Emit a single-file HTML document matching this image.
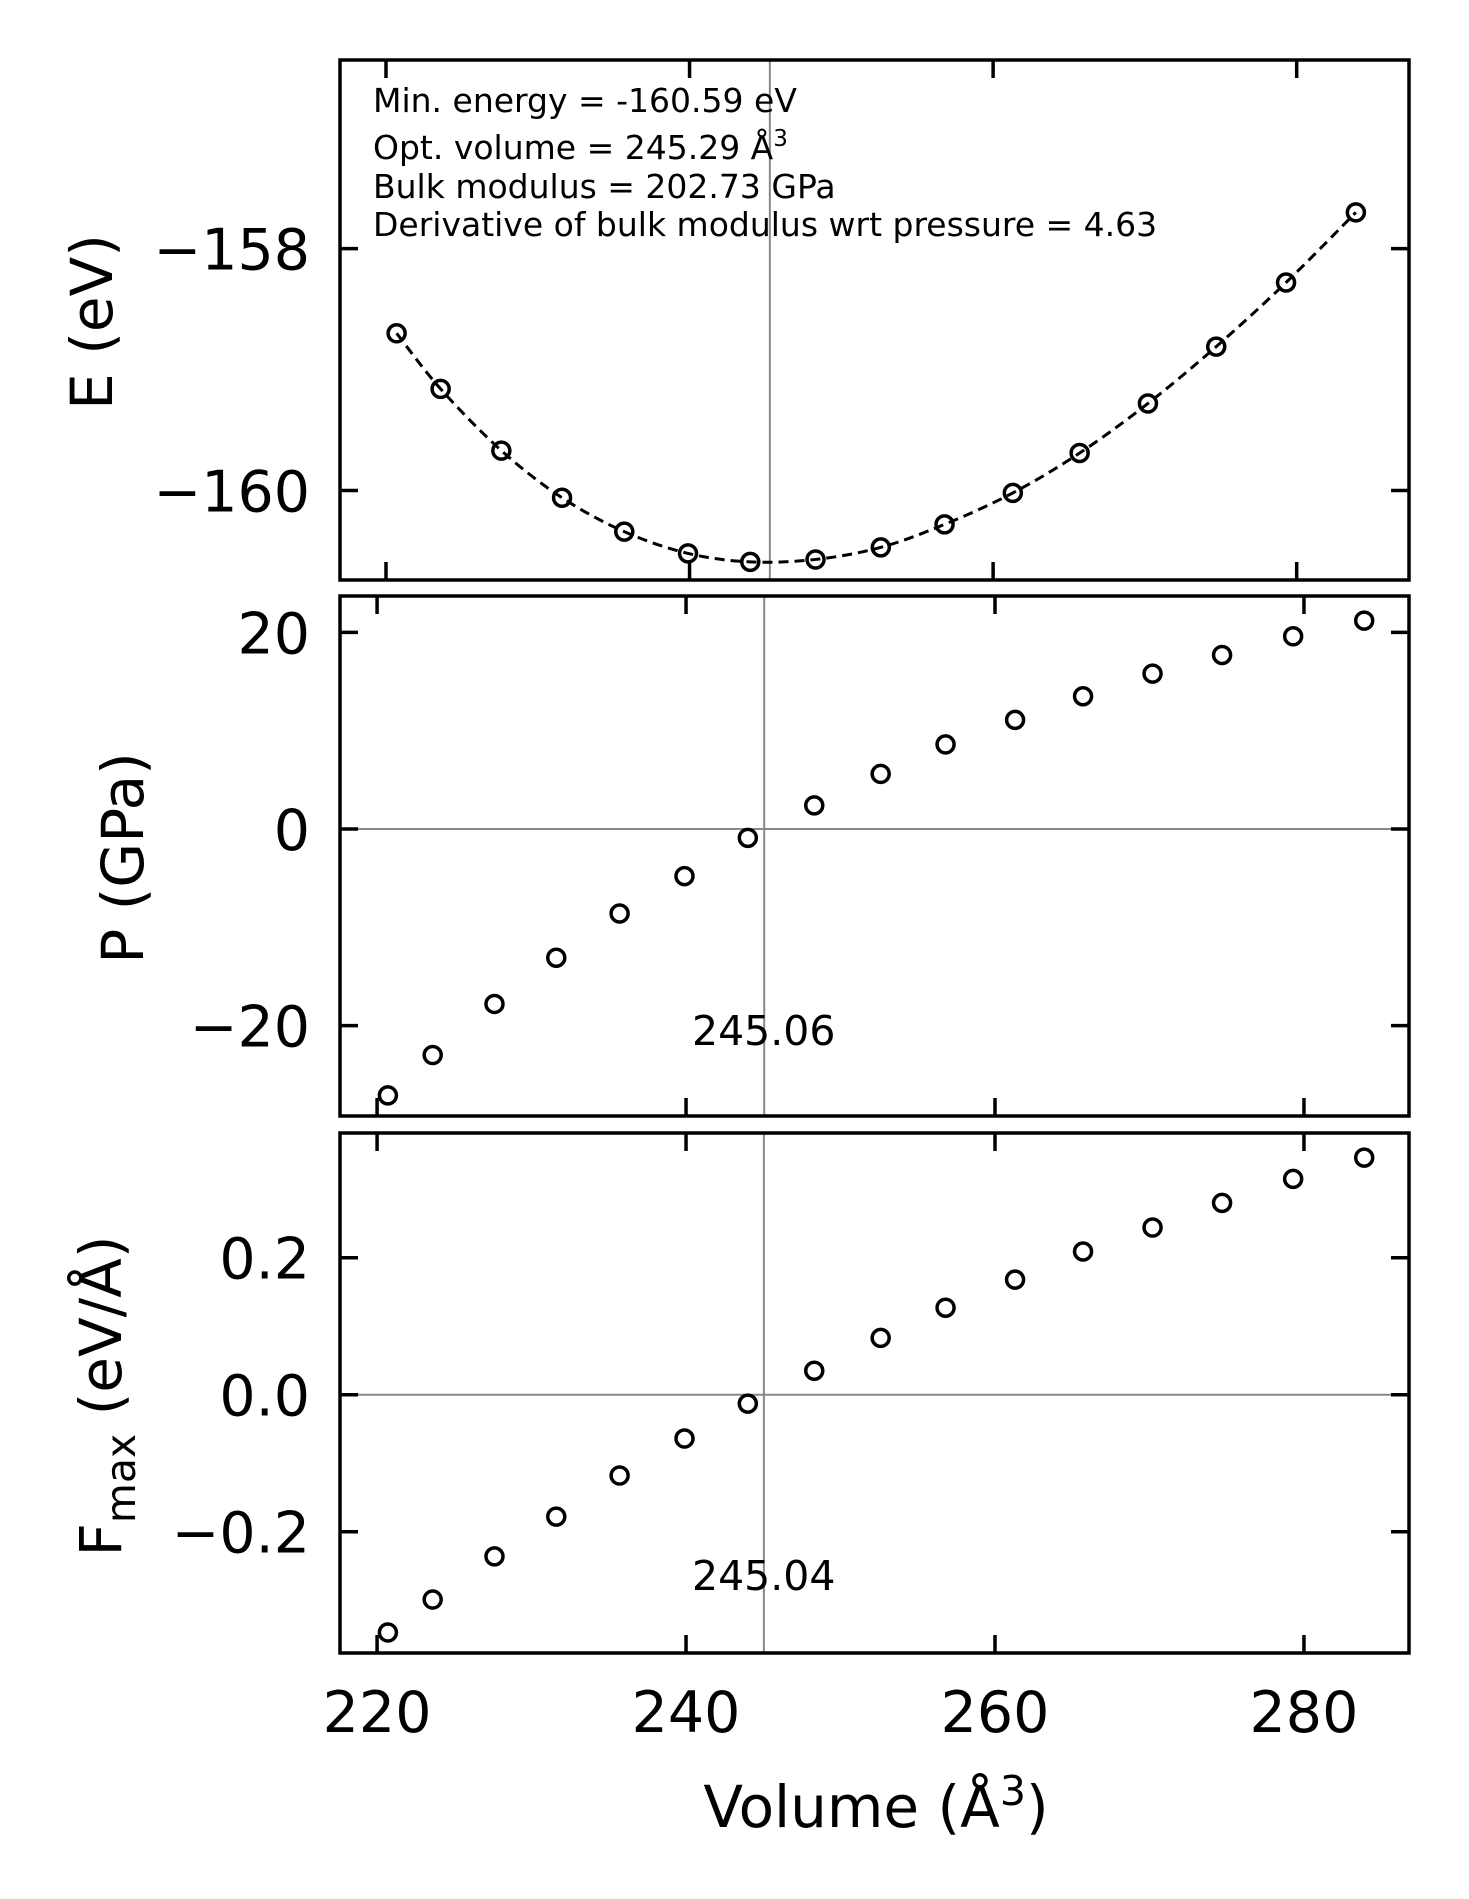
<!DOCTYPE html>
<html><head><meta charset="utf-8"><style>html,body{margin:0;padding:0;background:#fff}svg{display:block}text{font-family:"DejaVu Sans","Liberation Sans",sans-serif;fill:#000}</style></head>
<body>
<svg id="chart" width="1469" height="1899" viewBox="0 0 1469 1899" xmlns="http://www.w3.org/2000/svg"></svg>
<script>
const volumes = [220.7,223.6,227.6,231.6,235.7,239.9,244.0,248.3,252.6,256.8,261.3,265.7,270.2,274.7,279.3,283.9];
const energies = [-158.70,-159.16,-159.67,-160.06,-160.34,-160.52,-160.59,-160.57,-160.47,-160.28,-160.02,-159.69,-159.28,-158.81,-158.28,-157.70];
const pressures = [-27.1,-23.0,-17.8,-13.1,-8.6,-4.8,-0.9,2.4,5.6,8.6,11.1,13.5,15.8,17.7,19.6,21.2];
const forces = [-0.347,-0.299,-0.236,-0.178,-0.118,-0.064,-0.013,0.035,0.083,0.127,0.168,0.209,0.244,0.280,0.315,0.346];
const xTicks = [220,240,260,280];
const eTicks = [-158,-160];
const pTicks = [20,0,-20];
const fTicks = [0.2,0.0,-0.2];
const fTickLabels = ["0.2","0.0","\u22120.2"];
const optVolE = 245.29, optVolP = 245.06, optVolF = 245.04;
const annotLines = ["Min. energy = -160.59 eV","Opt. volume = 245.29 \u00c5","Bulk modulus = 202.73 GPa","Derivative of bulk modulus wrt pressure = 4.63"];

const svg = document.getElementById('chart');
const NS = 'http://www.w3.org/2000/svg';
function mk(tag, attrs, parent){const e=document.createElementNS(NS,tag);for(const k in attrs)e.setAttribute(k,attrs[k]);(parent||svg).appendChild(e);return e;}
const L=340,R=1409;
const panels=[
 {name:'energy',top:60,bot:580,xmin:216.97,xmax:287.4,ymin:-160.74,ymax:-156.44,ys:energies,yt:eTicks,yl:eTicks.map(v=>'\u2212'+Math.abs(v)),vline:optVolE,hz:false},
 {name:'pressure',top:596,bot:1116,xmin:217.6,xmax:286.8,ymin:-29.2,ymax:23.7,ys:pressures,yt:pTicks,yl:pTicks.map(v=>v<0?'\u2212'+Math.abs(v):''+v),vline:optVolP,hz:true},
 {name:'force',top:1133,bot:1653,xmin:217.6,xmax:286.8,ymin:-0.377,ymax:0.382,ys:forces,yt:fTicks,yl:fTickLabels,vline:optVolF,hz:true}
];
panels.forEach((p,pi)=>{
  const g=mk('g',{});
  
  
  const X=v=>L+(v-p.xmin)/(p.xmax-p.xmin)*(R-L);
  const Y=v=>p.bot-(v-p.ymin)/(p.ymax-p.ymin)*(p.bot-p.top);
  const vl=mk('line',{x1:X(p.vline),x2:X(p.vline),y1:p.top,y2:p.bot,stroke:'#888','stroke-width':2},g);
  
  
  if(p.hz){
    const hl=mk('line',{x1:L,x2:R,y1:Y(0),y2:Y(0),stroke:'#888','stroke-width':2},g);
    
    
  }
  if(pi===0){
    const pts=volumes.map((v,i)=>[X(v),Y(p.ys[i])]);
    let d='M'+pts[0][0]+','+pts[0][1];
    for(let i=0;i<pts.length-1;i++){
      const p0=pts[Math.max(0,i-1)],p1=pts[i],p2=pts[i+1],p3=pts[Math.min(pts.length-1,i+2)];
      const c1=[p1[0]+(p2[0]-p0[0])/6,p1[1]+(p2[1]-p0[1])/6],c2=[p2[0]-(p3[0]-p1[0])/6,p2[1]-(p3[1]-p1[1])/6];
      d+=' C'+c1.join(',')+' '+c2.join(',')+' '+p2.join(',');
    }
    const c=mk('path',{d:d,fill:'none',stroke:'#000','stroke-width':3,'stroke-dasharray':'10,6'},g);
    
    
  }
  volumes.forEach((v,i)=>{
    const m=mk('circle',{cx:X(v),cy:Y(p.ys[i]),r:8.5,fill:'none',stroke:'#000','stroke-width':3.5},g);
    
    
  });
  xTicks.forEach(t=>{
    mk('line',{x1:X(t),x2:X(t),y1:p.bot,y2:p.bot-18,stroke:'#000','stroke-width':3.5},g);
    mk('line',{x1:X(t),x2:X(t),y1:p.top,y2:p.top+18,stroke:'#000','stroke-width':3.5},g);
    if(pi===2){
      const tl=mk('text',{x:X(t),y:1732,'font-size':57,'text-anchor':'middle'},g);
      tl.textContent=''+t;
      
      
    }
  });
  p.yt.forEach((t,i)=>{
    mk('line',{x1:L,x2:L+18,y1:Y(t),y2:Y(t),stroke:'#000','stroke-width':3.5},g);
    mk('line',{x1:R,x2:R-18,y1:Y(t),y2:Y(t),stroke:'#000','stroke-width':3.5},g);
    const tl=mk('text',{x:310,y:Y(t)+21,'font-size':57,'text-anchor':'end'},g);
    tl.textContent=p.yl[i];
    
    
  });
  const fr=mk('rect',{x:L,y:p.top,width:R-L,height:p.bot-p.top,fill:'none',stroke:'#000','stroke-width':3.5},g);
  
  
});
const ann=mk('g',{});


const bl=[112,159,198,236];
annotLines.forEach((s,i)=>{
  const t=mk('text',{x:373,y:bl[i],'font-size':33},ann);
  t.textContent=s;
  if(i===1){const sp=mk('tspan',{dy:-13,'font-size':23},t);sp.textContent='3';}
});
[['245.06',1045,'pressure-optimal-volume-label'],['245.04',1590,'force-optimal-volume-label']].forEach(a=>{
  const t=mk('text',{x:692,y:a[1],'font-size':41});
  t.textContent=a[0];
  
  
});
const xl=mk('text',{x:876,y:1827,'font-size':58,'text-anchor':'middle'});


xl.textContent='Volume (\u00c5';
const xs=mk('tspan',{dy:-22,'font-size':41},xl);xs.textContent='3';
const xe=mk('tspan',{dy:22},xl);xe.textContent=')';
const yl1=mk('text',{transform:'translate(112,322) rotate(-90)','font-size':58,'text-anchor':'middle'});
yl1.textContent='E (eV)';


const yl2=mk('text',{transform:'translate(143,858) rotate(-90)','font-size':58,'text-anchor':'middle'});
yl2.textContent='P (GPa)';


const yl3=mk('text',{transform:'translate(121,1396) rotate(-90)','font-size':58,'text-anchor':'middle'});


yl3.textContent='F';
const s3=mk('tspan',{dy:14,'font-size':41},yl3);s3.textContent='max';
const s4=mk('tspan',{dy:-14},yl3);s4.textContent=' (eV/\u00c5)';
</script>
</body></html>
